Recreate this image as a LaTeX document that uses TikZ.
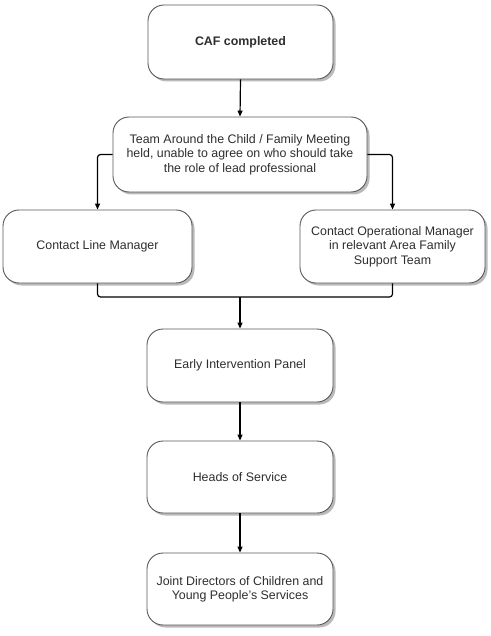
\documentclass[tikz,border=0pt]{standalone}
\usepackage{fontspec}
\setmainfont{Liberation Sans}
\usetikzlibrary{shadows,arrows.meta}
\begin{document}
\begin{tikzpicture}[x=1pt,y=-1pt,
  boxstyle/.style={draw=black!65, line width=0.9pt, rounded corners=16pt, fill=white,
    text=black!82, align=center, font=\fontsize{12.4}{14.3}\selectfont,
    drop shadow={shadow xshift=2.5pt, shadow yshift=-2.5pt, fill=black!45, opacity=0.6}},
  conn/.style={line width=1.2pt, black},
  arr/.style={conn, -{Triangle[length=6pt,width=5pt]}}]
\useasboundingbox (0,0) rectangle (490,636);
\node[boxstyle, minimum width=185pt, minimum height=74pt, font=\fontsize{12.4}{14.3}\selectfont\bfseries] (caf) at (240.5,42) {CAF completed};
\node[boxstyle, minimum width=254pt, minimum height=75pt] (tac) at (240,154.5) {Team Around the Child / Family Meeting\\held, unable to agree on who should take\\the role of lead professional};
\node[boxstyle, minimum width=189pt, minimum height=73pt] (clm) at (97.5,246.5) {Contact Line Manager};
\node[boxstyle, minimum width=185pt, minimum height=73pt] (com) at (392.5,246.5) {Contact Operational Manager\\in relevant Area Family\\Support Team};
\node[boxstyle, minimum width=186pt, minimum height=73pt] (eip) at (240,365.5) {Early Intervention Panel};
\node[boxstyle, minimum width=186pt, minimum height=72pt] (hos) at (240,477) {Heads of Service};
\node[boxstyle, minimum width=186pt, minimum height=72pt] (jd) at (240,589) {Joint Directors of Children and\\Young People's Services};
\coordinate (m) at (240,297);
\draw[arr] (caf.south) -- (tac.north);
\draw[arr, rounded corners=3pt] (tac.west) -| (clm.north);
\draw[arr, rounded corners=3pt] (tac.east) -| (com.north);
\draw[conn, rounded corners=3pt] (clm.south) |- (m) -| (com.south);
\draw[arr] (m) -- (eip.north);
\draw[arr] (eip.south) -- (hos.north);
\draw[arr] (hos.south) -- (jd.north);
\end{tikzpicture}
\end{document}
